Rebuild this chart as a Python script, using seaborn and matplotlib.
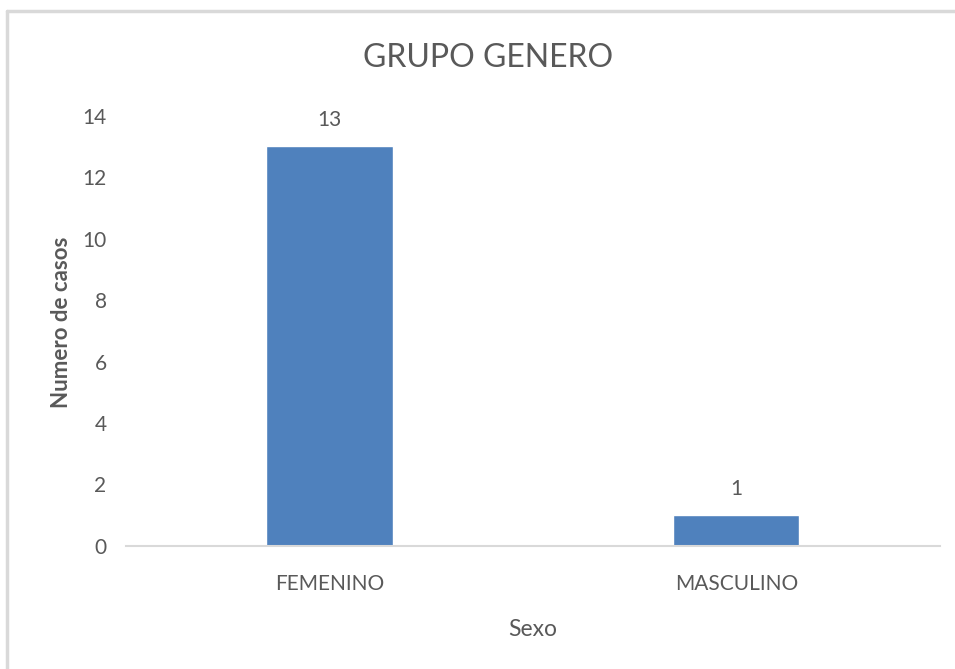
import matplotlib
matplotlib.use("Agg")
import matplotlib.pyplot as plt
import seaborn as sns
import pandas as pd
from matplotlib.lines import Line2D

# data
sexo = ["FEMENINO", "MASCULINO"]
casos = [13, 1]
y_ticks = [0, 2, 4, 6, 8, 10, 12, 14]

df = pd.DataFrame({"Sexo": sexo, "casos": casos})

sns.set_style("white")
plt.rcParams["font.family"] = ["Lato", "DejaVu Sans"]
gray = "#595959"

fig = plt.figure(figsize=(9.55, 6.69), dpi=100)
ax = fig.add_axes([0.132, 0.184, 0.852, 0.643])

sns.barplot(data=df, x="Sexo", y="casos", color="#4f81bd", width=0.31,
            saturation=1, ax=ax)

ax.set_ylim(0, 14)
ax.set_yticks(y_ticks)
ax.set_xlim(-0.5, 1.5)
for c in ax.containers:
    ax.bar_label(c, padding=12, fontsize=15, color=gray)

fig.text(0.511, 0.913, "GRUPO GENERO", fontsize=23, color=gray,
         ha="center", va="center")
ax.set_xlabel("Sexo", fontsize=16.5, color=gray, labelpad=18)
ax.set_ylabel("Numero de casos", fontsize=16, color=gray,
              fontweight="bold")
ax.yaxis.set_label_coords(-0.066, 0.52)
ax.tick_params(axis="both", labelsize=15, colors=gray, length=0)
ax.tick_params(axis="y", pad=14)
ax.tick_params(axis="x", pad=20)

for s in ["top", "right", "left"]:
    ax.spines[s].set_visible(False)
ax.spines["bottom"].set_color("#d9d9d9")
ax.spines["bottom"].set_linewidth(1.5)

# light chart-area border (left and top edges only are visible)
fig.add_artist(Line2D([0.007, 0.007], [0.0, 0.984], color="#d9d9d9",
                      lw=2.5, transform=fig.transFigure))
fig.add_artist(Line2D([0.007, 1.0], [0.984, 0.984], color="#d9d9d9",
                      lw=2.5, transform=fig.transFigure))

fig.savefig("out.png", dpi=100)
